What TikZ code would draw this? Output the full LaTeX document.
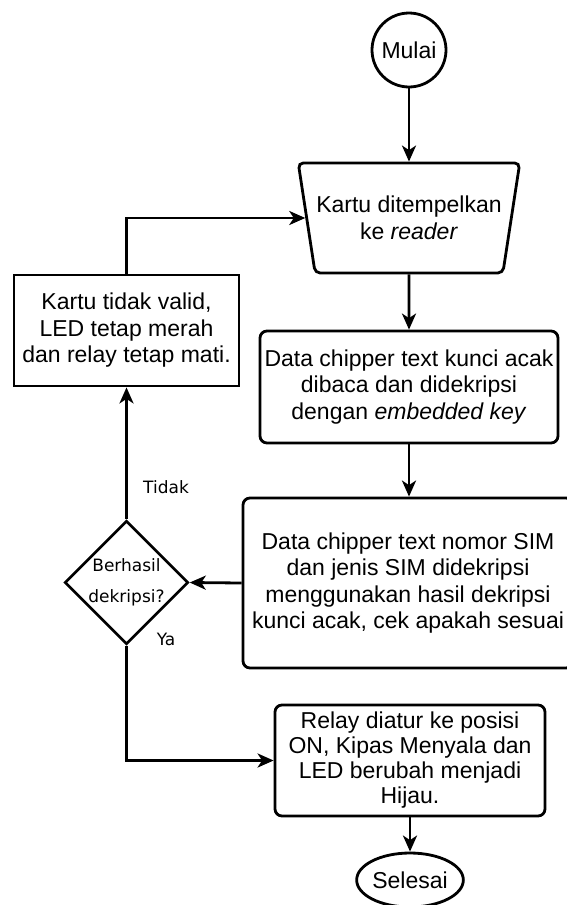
\documentclass[tikz,border=0pt]{standalone}
\usepackage{fontspec}
\setmainfont{Liberation Sans}
\newfontfamily\labelfont{DejaVu Sans}
\usetikzlibrary{arrows.meta, shapes.geometric}
\tikzset{
        fc_line/.style={line width=2.8pt, draw=black},
        fc_arrow/.style={fc_line, -{Stealth[length=16pt, width=14pt, inset=4.5pt]}},
        fc_text/.style={align=center, font=\fontsize{23}{26.5}\selectfont, inner sep=0pt},
        fc_round/.style={fc_text, draw=black, line width=2.8pt},
        fc_box/.style={fc_round, rounded corners=7pt},
        fc_input/.style={fc_round, trapezium, shape border rotate=180,
                         trapezium stretches=true, trapezium angle=69, rounded corners=5pt},
        fc_decide/.style={draw=black, line width=2.8pt, diamond, align=center, inner sep=0pt,
                          font=\labelfont\fontsize{17}{31}\selectfont},
        fc_label/.style={font=\labelfont\fontsize{17}{20}\selectfont, inner sep=0pt}
    }
\begin{document}
\begin{tikzpicture}[x=1pt, y=-1pt]
    \useasboundingbox (0,0) rectangle (566,905);
    % main column
    \node[fc_round, circle, minimum size=74pt] (mulai) at (409,50) {Mulai};
    \node[fc_input, minimum width=222pt, minimum height=110pt] (kartu) at (409,218)
        {Kartu ditempelkan\\ke \textit{reader}};
    \node[fc_box, minimum width=298pt, minimum height=112pt] (baca) at (409,387)
        {Data chipper text kunci acak\\dibaca dan didekripsi\\dengan \textit{embedded key}};
    \node[fc_box, minimum width=330pt, minimum height=170pt] (cek) at (408,583)
        {Data chipper text nomor SIM\\dan jenis SIM didekripsi\\menggunakan hasil dekripsi\\kunci acak, cek apakah sesuai};
    \node[fc_box, minimum width=270pt, minimum height=111pt, font=\fontsize{23}{25}\selectfont] (relay) at (410,760.5)
        {Relay diatur ke posisi\\ON, Kipas Menyala dan\\LED berubah menjadi\\Hijau.};
    \node[fc_round, ellipse, minimum width=88pt, minimum height=54pt] (selesai) at (410,880) {Selesai};
    % left column
    \node[fc_round, minimum width=225pt, minimum height=111pt] (gagal) at (126.5,330.5)
        {Kartu tidak valid,\\LED tetap merah\\dan relay tetap mati.};
    \node[fc_decide, minimum width=114pt, minimum height=109pt] (hasil) at (126.5,582.5)
        {Berhasil\\dekripsi?};
    \node[fc_label] (tidak) at (166,487) {Tidak};
    \node[fc_label] (ya) at (166,639) {Ya};
    % connectors
    \draw[fc_arrow] (mulai) -- (kartu);
    \draw[fc_arrow] (kartu) -- (baca);
    \draw[fc_arrow] (baca) -- (baca |- cek.north);
    \draw[fc_arrow] (cek.west) -- (hasil.east);
    \draw[fc_arrow] (hasil.north) -- (gagal.south);
    \draw[fc_arrow] (gagal.north) |- (kartu.west);
    \draw[fc_arrow] (hasil.south) |- (relay.west);
    \draw[fc_arrow] (relay) -- (selesai);
\end{tikzpicture}
\end{document}
